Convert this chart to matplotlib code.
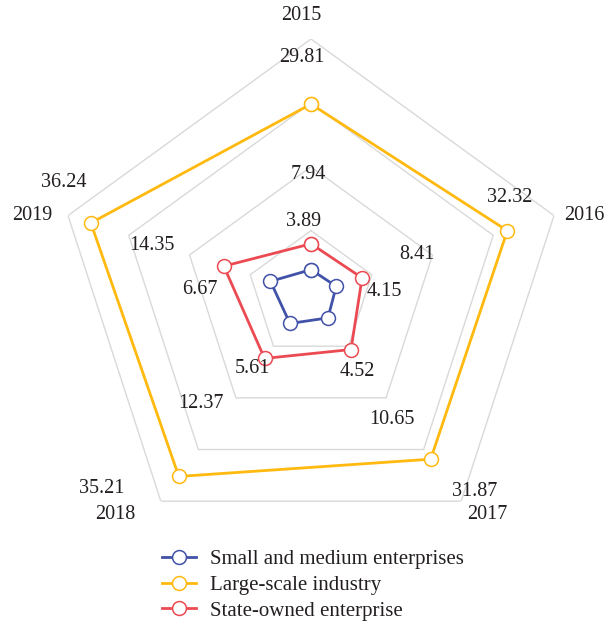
import numpy as np
import matplotlib.pyplot as plt

# Data
years = ["2015", "2016", "2017", "2018", "2019"]
small_medium = [3.89, 4.15, 4.52, 5.61, 6.67]
large_scale = [29.81, 32.32, 31.87, 35.21, 36.24]
state_owned = [7.94, 8.41, 10.65, 12.37, 14.35]
ring_levels = [10, 20, 30, 40]

series_names = ["Small and medium enterprises", "Large-scale industry", "State-owned enterprise"]

# Styling
plt.rcParams["font.family"] = ["Liberation Serif", "DejaVu Serif"]
FS = 14.5
LEG_FS = 15
colors = ["#4152A8", "#FFB90F", "#EC4A52"]
grid_color = "#D9D9D9"
text_color = "#231F20"

# value-label offsets (pixels) relative to each point
label_offsets = {
    0: [(-7, 48), (48, -5), (29, -54), (-37, -45), (-71, -8)],
    1: [(-9, 47), (2, 33), (44, -32), (-77, -12), (-27, 40)],
    2: [(-3, 69), (55, 23), (41, -70), (-64, -45), (-72, 21)],
}
year_offsets = [(-10, 24), (30, 0), (26, -13), (-46, -13), (-36, 0)]

fig = plt.figure(figsize=(6.08, 6.27), dpi=100)
cx, cy, R = 311, 294.5, 255.5
ax = fig.add_axes([(cx - R) / 608, (627 - cy - R) / 627, 2 * R / 608, 2 * R / 627],
                  projection="polar")
ax.set_theta_offset(np.pi / 2)
ax.set_theta_direction(-1)

n = len(years)
theta = np.arange(n) * 2 * np.pi / n
theta_c = np.append(theta, theta[0])

# pentagon rings
for lvl in ring_levels:
    ax.plot(theta_c, [lvl] * (n + 1), color=grid_color, lw=1.0, zorder=0)

all_series = [small_medium, large_scale, state_owned]
for i, (vals, col, name) in enumerate(zip(all_series, colors, series_names)):
    vc = list(vals) + [vals[0]]
    ax.plot(theta_c, vc, color=col, lw=2.0, marker="o", markersize=10,
            markerfacecolor="white", markeredgecolor=col, markeredgewidth=1.1,
            label=name, zorder=3 + i)
    for k, v in enumerate(vals):
        ax.annotate(f"{v:.2f}", (theta[k], v), xytext=label_offsets[i][k],
                    textcoords="offset pixels", ha="center", va="center",
                    fontsize=FS, color=text_color, zorder=10)

for k, yr in enumerate(years):
    ax.annotate(yr, (theta[k], ring_levels[-1]), xytext=year_offsets[k],
                textcoords="offset pixels", ha="center", va="center",
                fontsize=FS, color=text_color, annotation_clip=False)

ax.set_ylim(0, ring_levels[-1])
ax.set_xticks([])
ax.set_yticks([])
ax.grid(False)
ax.spines["polar"].set_visible(False)
ax.patch.set_alpha(0)

leg = fig.legend(loc="center left", bbox_to_anchor=(162 / 608, 1 - 585 / 627),
                 frameon=False, fontsize=LEG_FS, handlelength=1.65, handletextpad=0.65,
                 labelspacing=0.3, borderpad=0, borderaxespad=0)
for t in leg.get_texts():
    t.set_color(text_color)

fig.savefig("out.png", dpi=100)
